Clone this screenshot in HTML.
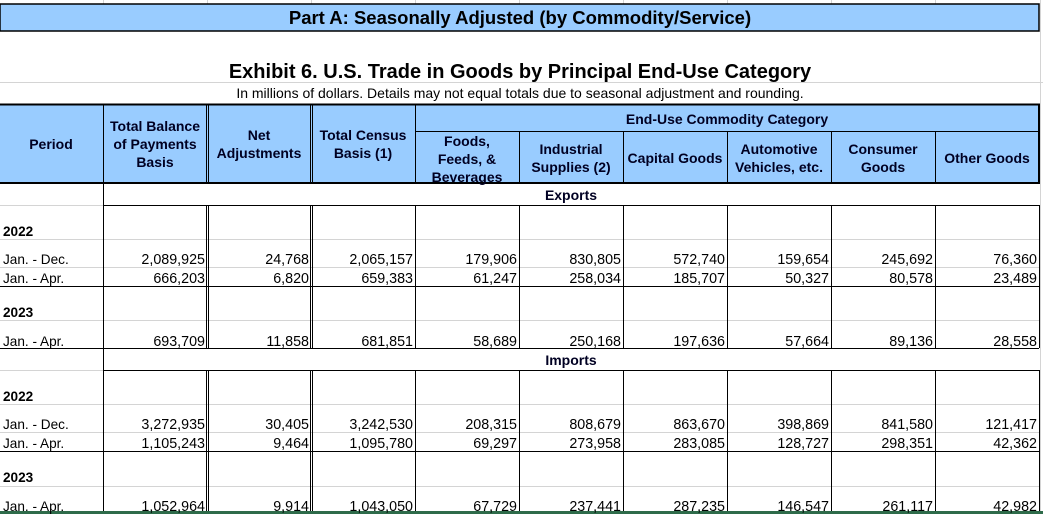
<!DOCTYPE html>
<html><head><meta charset="utf-8"><style>
html,body{margin:0;padding:0;background:#fff;}
svg{display:block;font-family:"Liberation Sans",Arial,sans-serif;}
.h{font-weight:bold;font-size:14px;fill:#000022;text-anchor:middle;}
.n{font-size:14.3px;fill:#000;text-anchor:end;}
.l{font-size:13.6px;fill:#000;}
.b{font-size:13.6px;font-weight:bold;fill:#000;}
</style></head><body>
<svg width="1043" height="514" viewBox="0 0 1043 514">
<g stroke="#d4d4d4" stroke-width="1">
<line x1="103.5" y1="0" x2="103.5" y2="4"/><line x1="207.5" y1="0" x2="207.5" y2="4"/><line x1="311.5" y1="0" x2="311.5" y2="4"/><line x1="415.5" y1="0" x2="415.5" y2="4"/><line x1="519.5" y1="0" x2="519.5" y2="4"/><line x1="623.5" y1="0" x2="623.5" y2="4"/><line x1="727.5" y1="0" x2="727.5" y2="4"/><line x1="831.5" y1="0" x2="831.5" y2="4"/><line x1="935.5" y1="0" x2="935.5" y2="4"/>
<line x1="1040.5" y1="0" x2="1040.5" y2="514"/>
<line x1="0" y1="82.5" x2="1043" y2="82.5"/>
<line x1="0" y1="205.5" x2="103" y2="205.5"/>
<line x1="0" y1="239.5" x2="1039" y2="239.5"/>
<line x1="0" y1="267.5" x2="1039" y2="267.5"/>
<line x1="0" y1="320.5" x2="1039" y2="320.5"/>
<line x1="0" y1="370.5" x2="103" y2="370.5"/>
<line x1="0" y1="404.5" x2="1039" y2="404.5"/>
<line x1="0" y1="432.5" x2="1039" y2="432.5"/>
<line x1="0" y1="486.5" x2="1039" y2="486.5"/>
</g>
<rect x="0" y="4" width="1039" height="27" fill="#99ccff" stroke="#000" stroke-width="1.5"/>
<text x="520" y="24" text-anchor="middle" font-weight="bold" font-size="18.5" fill="#000">Part A: Seasonally Adjusted (by Commodity/Service)</text>
<text x="520" y="78" text-anchor="middle" font-weight="bold" font-size="20" fill="#000">Exhibit 6. U.S. Trade in Goods by Principal End-Use Category</text>
<text x="520" y="98" text-anchor="middle" font-size="14" fill="#000">In millions of dollars. Details may not equal totals due to seasonal adjustment and rounding.</text>
<rect x="0" y="104" width="1039" height="79" fill="#99ccff"/>
<g stroke="#000" fill="none">
<line x1="0" y1="104.5" x2="1040" y2="104.5" stroke-width="2"/>
<line x1="0" y1="183" x2="1040" y2="183" stroke-width="2"/>
<line x1="415" y1="131.5" x2="1039" y2="131.5" stroke-width="1"/>
<line x1="1039" y1="104" x2="1039" y2="183" stroke-width="2"/>
</g>
<g stroke="#000" stroke-width="1">
<line x1="103.5" y1="104" x2="103.5" y2="183"/>
<line x1="206.5" y1="104" x2="206.5" y2="183"/><line x1="208.5" y1="104" x2="208.5" y2="183"/>
<line x1="310.5" y1="104" x2="310.5" y2="183"/><line x1="312.5" y1="104" x2="312.5" y2="183"/>
<line x1="415.5" y1="104" x2="415.5" y2="183"/>
<line x1="519.5" y1="131" x2="519.5" y2="183"/><line x1="623.5" y1="131" x2="623.5" y2="183"/><line x1="727.5" y1="131" x2="727.5" y2="183"/><line x1="831.5" y1="131" x2="831.5" y2="183"/><line x1="935.5" y1="131" x2="935.5" y2="183"/>
<line x1="103.5" y1="183" x2="103.5" y2="514"/>
<line x1="103" y1="205.5" x2="1039" y2="205.5"/>
<line x1="103" y1="370.5" x2="1039" y2="370.5"/>
<line x1="0" y1="286.5" x2="1039" y2="286.5"/>
<line x1="0" y1="348.5" x2="1039" y2="348.5"/>
<line x1="0" y1="451.5" x2="1039" y2="451.5"/>
</g>
<g stroke="#000" stroke-width="1">
<path d="M206.5 205V348M208.5 205V348M310.5 205V348M312.5 205V348M415.5 205V348M519.5 205V348M623.5 205V348M727.5 205V348M831.5 205V348M935.5 205V348M1039.5 205V348"/>
<path d="M206.5 370V514M208.5 370V514M310.5 370V514M312.5 370V514M415.5 370V514M519.5 370V514M623.5 370V514M727.5 370V514M831.5 370V514M935.5 370V514M1039.5 370V514"/>
</g>
<rect x="0" y="511" width="1043" height="3" fill="#2e6b4a"/>
<text class="h" x="51" y="149">Period</text>
<text class="h" x="155" y="131">Total Balance</text><text class="h" x="155" y="149">of Payments</text><text class="h" x="155" y="167">Basis</text>
<text class="h" x="259" y="140">Net</text><text class="h" x="259" y="158">Adjustments</text>
<text class="h" x="363" y="140">Total Census</text><text class="h" x="363" y="158">Basis (1)</text>
<text class="h" x="467" y="146">Foods,</text><text class="h" x="467" y="164">Feeds, &amp;</text><text class="h" x="467" y="182">Beverages</text>
<text class="h" x="727" y="124">End-Use Commodity Category</text>
<text class="h" x="571" y="154">Industrial</text><text class="h" x="571" y="172">Supplies (2)</text>
<text class="h" x="675" y="163">Capital Goods</text>
<text class="h" x="779" y="154">Automotive</text><text class="h" x="779" y="172">Vehicles, etc.</text>
<text class="h" x="883" y="154">Consumer</text><text class="h" x="883" y="172">Goods</text>
<text class="h" x="987" y="163">Other Goods</text>
<text class="h" x="571" y="200" fill="#000">Exports</text>
<text class="h" x="571" y="365" fill="#000">Imports</text>
<text class="b" x="3" y="236">2022</text>
<text class="l" x="3" y="264">Jan. - Dec.</text>
<text class="l" x="3" y="283">Jan. - Apr.</text>
<text class="b" x="3" y="317">2023</text>
<text class="l" x="3" y="346">Jan. - Apr.</text>
<text class="b" x="3" y="401">2022</text>
<text class="l" x="3" y="429">Jan. - Dec.</text>
<text class="l" x="3" y="448">Jan. - Apr.</text>
<text class="b" x="3" y="482">2023</text>
<text class="l" x="3" y="511">Jan. - Apr.</text>
<g>
<text class="n" x="205" y="264">2,089,925</text><text class="n" x="309" y="264">24,768</text><text class="n" x="413" y="264">2,065,157</text><text class="n" x="517" y="264">179,906</text><text class="n" x="621" y="264">830,805</text><text class="n" x="725" y="264">572,740</text><text class="n" x="829" y="264">159,654</text><text class="n" x="933" y="264">245,692</text><text class="n" x="1037" y="264">76,360</text>
<text class="n" x="205" y="283">666,203</text><text class="n" x="309" y="283">6,820</text><text class="n" x="413" y="283">659,383</text><text class="n" x="517" y="283">61,247</text><text class="n" x="621" y="283">258,034</text><text class="n" x="725" y="283">185,707</text><text class="n" x="829" y="283">50,327</text><text class="n" x="933" y="283">80,578</text><text class="n" x="1037" y="283">23,489</text>
<text class="n" x="205" y="346">693,709</text><text class="n" x="309" y="346">11,858</text><text class="n" x="413" y="346">681,851</text><text class="n" x="517" y="346">58,689</text><text class="n" x="621" y="346">250,168</text><text class="n" x="725" y="346">197,636</text><text class="n" x="829" y="346">57,664</text><text class="n" x="933" y="346">89,136</text><text class="n" x="1037" y="346">28,558</text>
<text class="n" x="205" y="429">3,272,935</text><text class="n" x="309" y="429">30,405</text><text class="n" x="413" y="429">3,242,530</text><text class="n" x="517" y="429">208,315</text><text class="n" x="621" y="429">808,679</text><text class="n" x="725" y="429">863,670</text><text class="n" x="829" y="429">398,869</text><text class="n" x="933" y="429">841,580</text><text class="n" x="1037" y="429">121,417</text>
<text class="n" x="205" y="448">1,105,243</text><text class="n" x="309" y="448">9,464</text><text class="n" x="413" y="448">1,095,780</text><text class="n" x="517" y="448">69,297</text><text class="n" x="621" y="448">273,958</text><text class="n" x="725" y="448">283,085</text><text class="n" x="829" y="448">128,727</text><text class="n" x="933" y="448">298,351</text><text class="n" x="1037" y="448">42,362</text>
<text class="n" x="205" y="511">1,052,964</text><text class="n" x="309" y="511">9,914</text><text class="n" x="413" y="511">1,043,050</text><text class="n" x="517" y="511">67,729</text><text class="n" x="621" y="511">237,441</text><text class="n" x="725" y="511">287,235</text><text class="n" x="829" y="511">146,547</text><text class="n" x="933" y="511">261,117</text><text class="n" x="1037" y="511">42,982</text>
</g>
</svg>
</body></html>
